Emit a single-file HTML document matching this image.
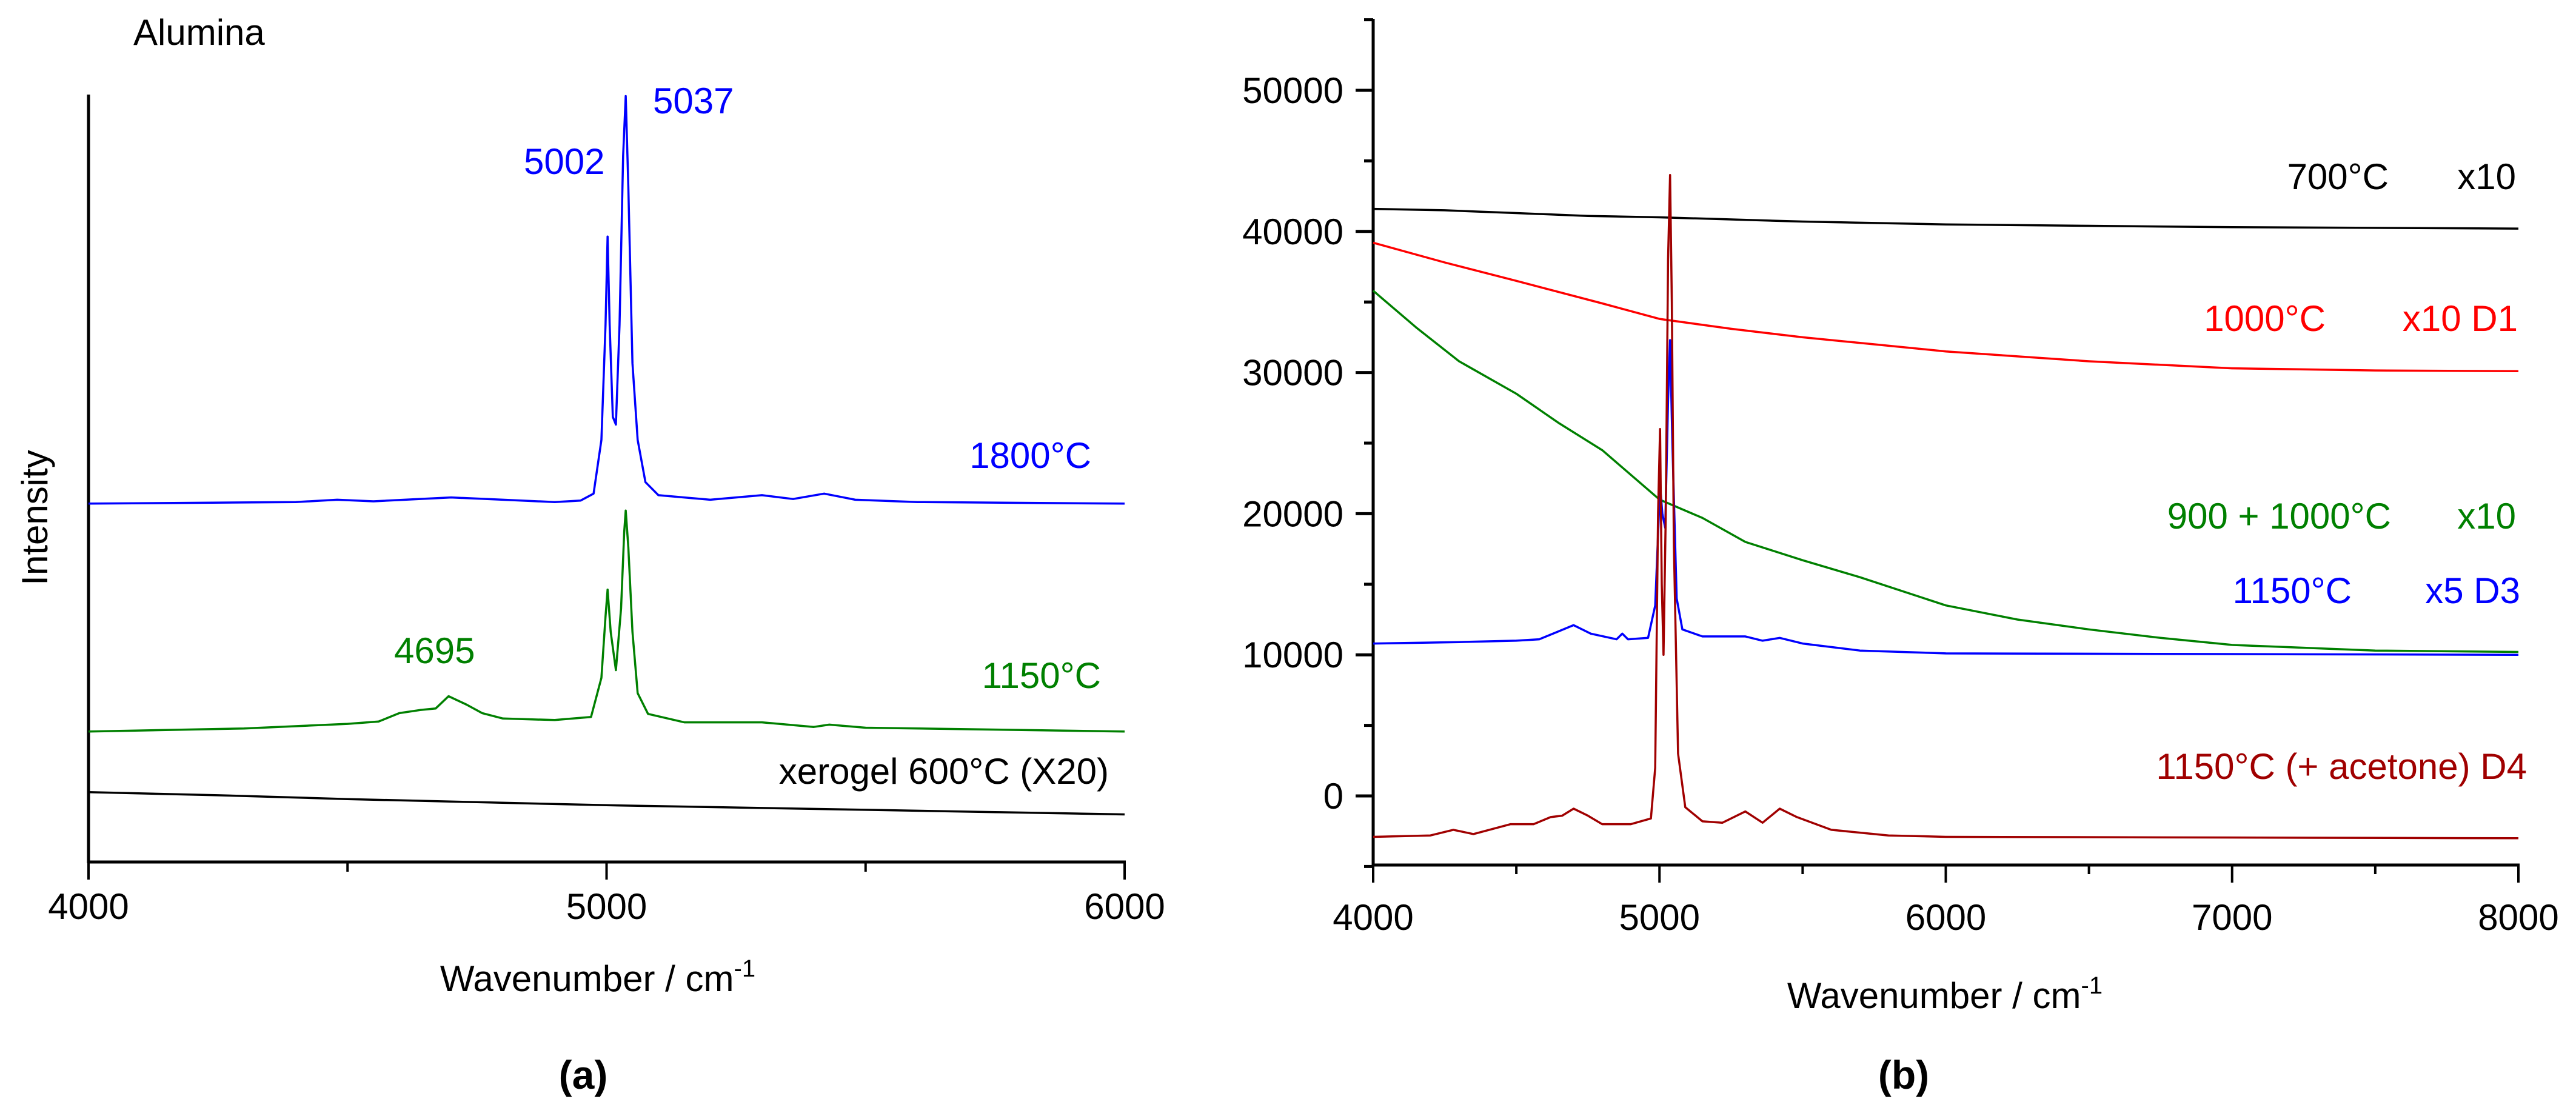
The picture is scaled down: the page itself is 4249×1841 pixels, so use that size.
<!DOCTYPE html>
<html><head><meta charset="utf-8"><style>
body{margin:0;background:#fff}
svg text{font-family:"Liberation Sans",Arial,sans-serif}
</style></head><body>
<svg id="fig" width="4249" height="1836" viewBox="0 0 4249 1836" xmlns="http://www.w3.org/2000/svg">
<g id="pa"></g>
<g id="pb"></g>
</svg>
<script>
// ---------- Panel (a) data ----------
const aBlueX=[4000,4400,4480,4550,4700,4800,4900,4950,4975,4990,4998,5002,5006,5012,5018,5025,5032,5037,5042,5050,5060,5075,5100,5200,5300,5360,5420,5480,5600,6000];
const aBlueY=[46.7,46.9,47.2,47.0,47.5,47.2,46.9,47.1,48.0,55,70,81.5,70,58,57,70,92,99.8,88,65,55,49.5,47.8,47.2,47.8,47.3,48.0,47.2,46.9,46.7];
const aGreenX=[4000,4300,4500,4560,4600,4640,4670,4695,4730,4760,4800,4900,4970,4990,4998,5002,5008,5018,5028,5034,5037,5042,5050,5060,5080,5150,5300,5400,5430,5500,6000];
const aGreenY=[17,17.4,18.0,18.3,19.4,19.8,20.0,21.6,20.5,19.4,18.7,18.5,18.9,24,32,35.5,30,25,33,43,45.8,41,30,22,19.3,18.2,18.2,17.6,17.9,17.5,17.0];
const aBlackX=[4000,4250,4500,4750,5000,5250,5500,5750,6000];
const aBlackY=[9.1,8.7,8.2,7.8,7.4,7.1,6.8,6.5,6.2];
const aXTicks=[4000,5000,6000];
const aXMinor=[4500,5500];
// ---------- Panel (b) data ----------
const bBlackX=[4000,4250,4500,4750,5000,5500,6000,6500,7000,8000];
const bBlackY=[41600,41500,41300,41100,41000,40700,40500,40400,40300,40200];
const bRedX=[4000,4250,4500,4800,5000,5250,5500,5750,6000,6500,7000,7500,8000];
const bRedY=[39200,37800,36500,34900,33800,33100,32500,32000,31500,30800,30300,30150,30100];
const bGreenX=[4000,4150,4300,4500,4650,4800,5000,5150,5300,5500,5700,6000,6250,6500,6750,7000,7500,8000];
const bGreenY=[35800,33200,30800,28500,26400,24500,21000,19700,18000,16700,15500,13500,12500,11800,11200,10700,10300,10200];
const bBlueX=[4000,4300,4500,4580,4640,4700,4760,4850,4870,4890,4960,4985,5002,5010,5020,5030,5037,5045,5060,5080,5150,5300,5360,5420,5500,5700,6000,8000];
const bBlueY=[10800,10900,11000,11100,11600,12100,11500,11100,11500,11100,11200,13500,22000,20000,19000,28000,32300,25000,14000,11800,11300,11300,11000,11200,10800,10300,10100,10000];
const bDredX=[4000,4200,4280,4350,4480,4560,4620,4660,4700,4750,4800,4900,4970,4985,4995,5002,5008,5014,5022,5030,5037,5043,5050,5065,5090,5150,5220,5300,5360,5420,5480,5600,5800,6000,8000];
const bDredY=[-2900,-2800,-2400,-2700,-2000,-2000,-1500,-1400,-900,-1400,-2000,-2000,-1600,2000,20000,26000,15000,10000,20000,38000,44000,35000,18000,3000,-800,-1800,-1900,-1100,-1900,-900,-1500,-2400,-2800,-2900,-3000];
const bXTicks=[4000,5000,6000,7000,8000];
const bXMinor=[4500,5500,6500,7500];
const bYTicks=[0,10000,20000,30000,40000,50000];
const bYMinor=[-5000,5000,15000,25000,35000,45000,55000];

const NS="http://www.w3.org/2000/svg";
function mk(parent,tag,attrs,txt){const e=document.createElementNS(NS,tag);for(const k in attrs)e.setAttribute(k,attrs[k]);if(txt!==undefined)e.textContent=txt;parent.appendChild(e);return e;}

// ---- Panel a ----
const pa=document.getElementById('pa');
const ax=v=>146+(v-4000)*(1855-146)/2000;
const ay=v=>1422-v*12.66;
let e;
e=mk(pa,'line',{x1:146,y1:156,x2:146,y2:1424,stroke:'#000','stroke-width':5});


e=mk(pa,'line',{x1:144,y1:1422,x2:1857,y2:1422,stroke:'#000','stroke-width':5});


aXTicks.forEach(t=>{
 e=mk(pa,'line',{x1:ax(t),y1:1422,x2:ax(t),y2:1451,stroke:'#000','stroke-width':4});
 
 
 e=mk(pa,'text',{x:ax(t),y:1516,'font-size':60,'text-anchor':'middle'},String(t));
 
 
});
aXMinor.forEach(t=>{
 e=mk(pa,'line',{x1:ax(t),y1:1422,x2:ax(t),y2:1438,stroke:'#000','stroke-width':4});
 
 
});
function series(parent,xs,ys,fx,fy,color,name){
 const pts=xs.map((x,i)=>fx(x).toFixed(1)+','+fy(ys[i]).toFixed(1)).join(' ');
 const p=mk(parent,'polyline',{points:pts,fill:'none',stroke:color,'stroke-width':3.5,'stroke-linejoin':'round'});
 
 
}
series(pa,aBlackX,aBlackY,ax,ay,'#000','series-xerogel-600');
series(pa,aGreenX,aGreenY,ax,ay,'#008000','series-1150');
series(pa,aBlueX,aBlueY,ax,ay,'#0000ff','series-1800');
function label(parent,x,y,txt,color,anchor,name,size){
 const t=mk(parent,'text',{x:x,y:y,fill:color,'font-size':size||60,'text-anchor':anchor||'start'},txt);
 
 
 return t;
}
label(pa,220,74,'Alumina','#000','start','panel-a-title');
label(pa,1077,187,'5037','#0000ff','start','peak-label-5037');
label(pa,864,287,'5002','#0000ff','start','peak-label-5002');
label(pa,1800,772,'1800°C','#0000ff','end','label-1800');
label(pa,650,1094,'4695','#008000','start','peak-label-4695');
label(pa,1816,1135,'1150°C','#008000','end','label-1150');
label(pa,1829,1293,'xerogel 600°C   (X20)','#000','end','label-xerogel').setAttribute('xml:space','preserve');
e=mk(pa,'text',{x:0,y:0,'font-size':60,'text-anchor':'middle',transform:'translate(78,854) rotate(-90)'},'Intensity');


e=mk(pa,'text',{x:986,y:1635,'font-size':60,'text-anchor':'middle'});


e.innerHTML='Wavenumber / cm<tspan dy="-24" font-size="40">-1</tspan>';
e=mk(pa,'text',{x:962,y:1796,'font-size':66,'font-weight':'bold','text-anchor':'middle','font-family':'Liberation Serif, serif'},'(a)');



// ---- Panel b ----
const pb=document.getElementById('pb');
const bx=v=>2265+(v-4000)*(4154-2265)/4000;
const by=v=>1313-v*0.02328;
e=mk(pb,'line',{x1:2265,y1:31,x2:2265,y2:1429,stroke:'#000','stroke-width':5});


e=mk(pb,'line',{x1:2263,y1:1427,x2:4156,y2:1427,stroke:'#000','stroke-width':5});


bXTicks.forEach(t=>{
 e=mk(pb,'line',{x1:bx(t),y1:1427,x2:bx(t),y2:1456,stroke:'#000','stroke-width':4});
 
 
 e=mk(pb,'text',{x:bx(t),y:1534,'font-size':60,'text-anchor':'middle'},String(t));
 
 
});
bXMinor.forEach(t=>{
 e=mk(pb,'line',{x1:bx(t),y1:1427,x2:bx(t),y2:1442,stroke:'#000','stroke-width':4});
 
 
});
bYTicks.forEach(t=>{
 e=mk(pb,'line',{x1:2236,y1:by(t),x2:2265,y2:by(t),stroke:'#000','stroke-width':5});
 
 
 e=mk(pb,'text',{x:2216,y:by(t)+21,'font-size':60,'text-anchor':'end'},String(t));
 
 
});
bYMinor.forEach(t=>{
 e=mk(pb,'line',{x1:2250,y1:by(t),x2:2265,y2:by(t),stroke:'#000','stroke-width':5});
 
 
});
series(pb,bBlackX,bBlackY,bx,by,'#000','series-700');
series(pb,bRedX,bRedY,bx,by,'#ff0000','series-1000-d1');
series(pb,bGreenX,bGreenY,bx,by,'#008000','series-900-1000');
series(pb,bBlueX,bBlueY,bx,by,'#0000ff','series-1150-d3');
series(pb,bDredX,bDredY,bx,by,'#a00000','series-1150-acetone-d4');
label(pb,3940,312,'700°C','#000','end','label-700');
label(pb,4150,312,'x10','#000','end','label-700-scale');
label(pb,3836,546,'1000°C','#ff0000','end','label-1000');
label(pb,4153,546,'x10 D1','#ff0000','end','label-1000-scale');
label(pb,3944,872,'900 + 1000°C','#008000','end','label-900-1000');
label(pb,4150,872,'x10','#008000','end','label-900-1000-scale');
label(pb,3879,995,'1150°C','#0000ff','end','label-1150-d3');
label(pb,4157,995,'x5 D3','#0000ff','end','label-1150-d3-scale');
label(pb,4168,1285,'1150°C  (+ acetone) D4','#a00000','end','label-1150-d4').setAttribute('xml:space','preserve');
e=mk(pb,'text',{x:3208,y:1663,'font-size':60,'text-anchor':'middle'});


e.innerHTML='Wavenumber / cm<tspan dy="-24" font-size="40">-1</tspan>';
e=mk(pb,'text',{x:3140,y:1796,'font-size':66,'font-weight':'bold','text-anchor':'middle','font-family':'Liberation Serif, serif'},'(b)');


</script>
</body></html>
